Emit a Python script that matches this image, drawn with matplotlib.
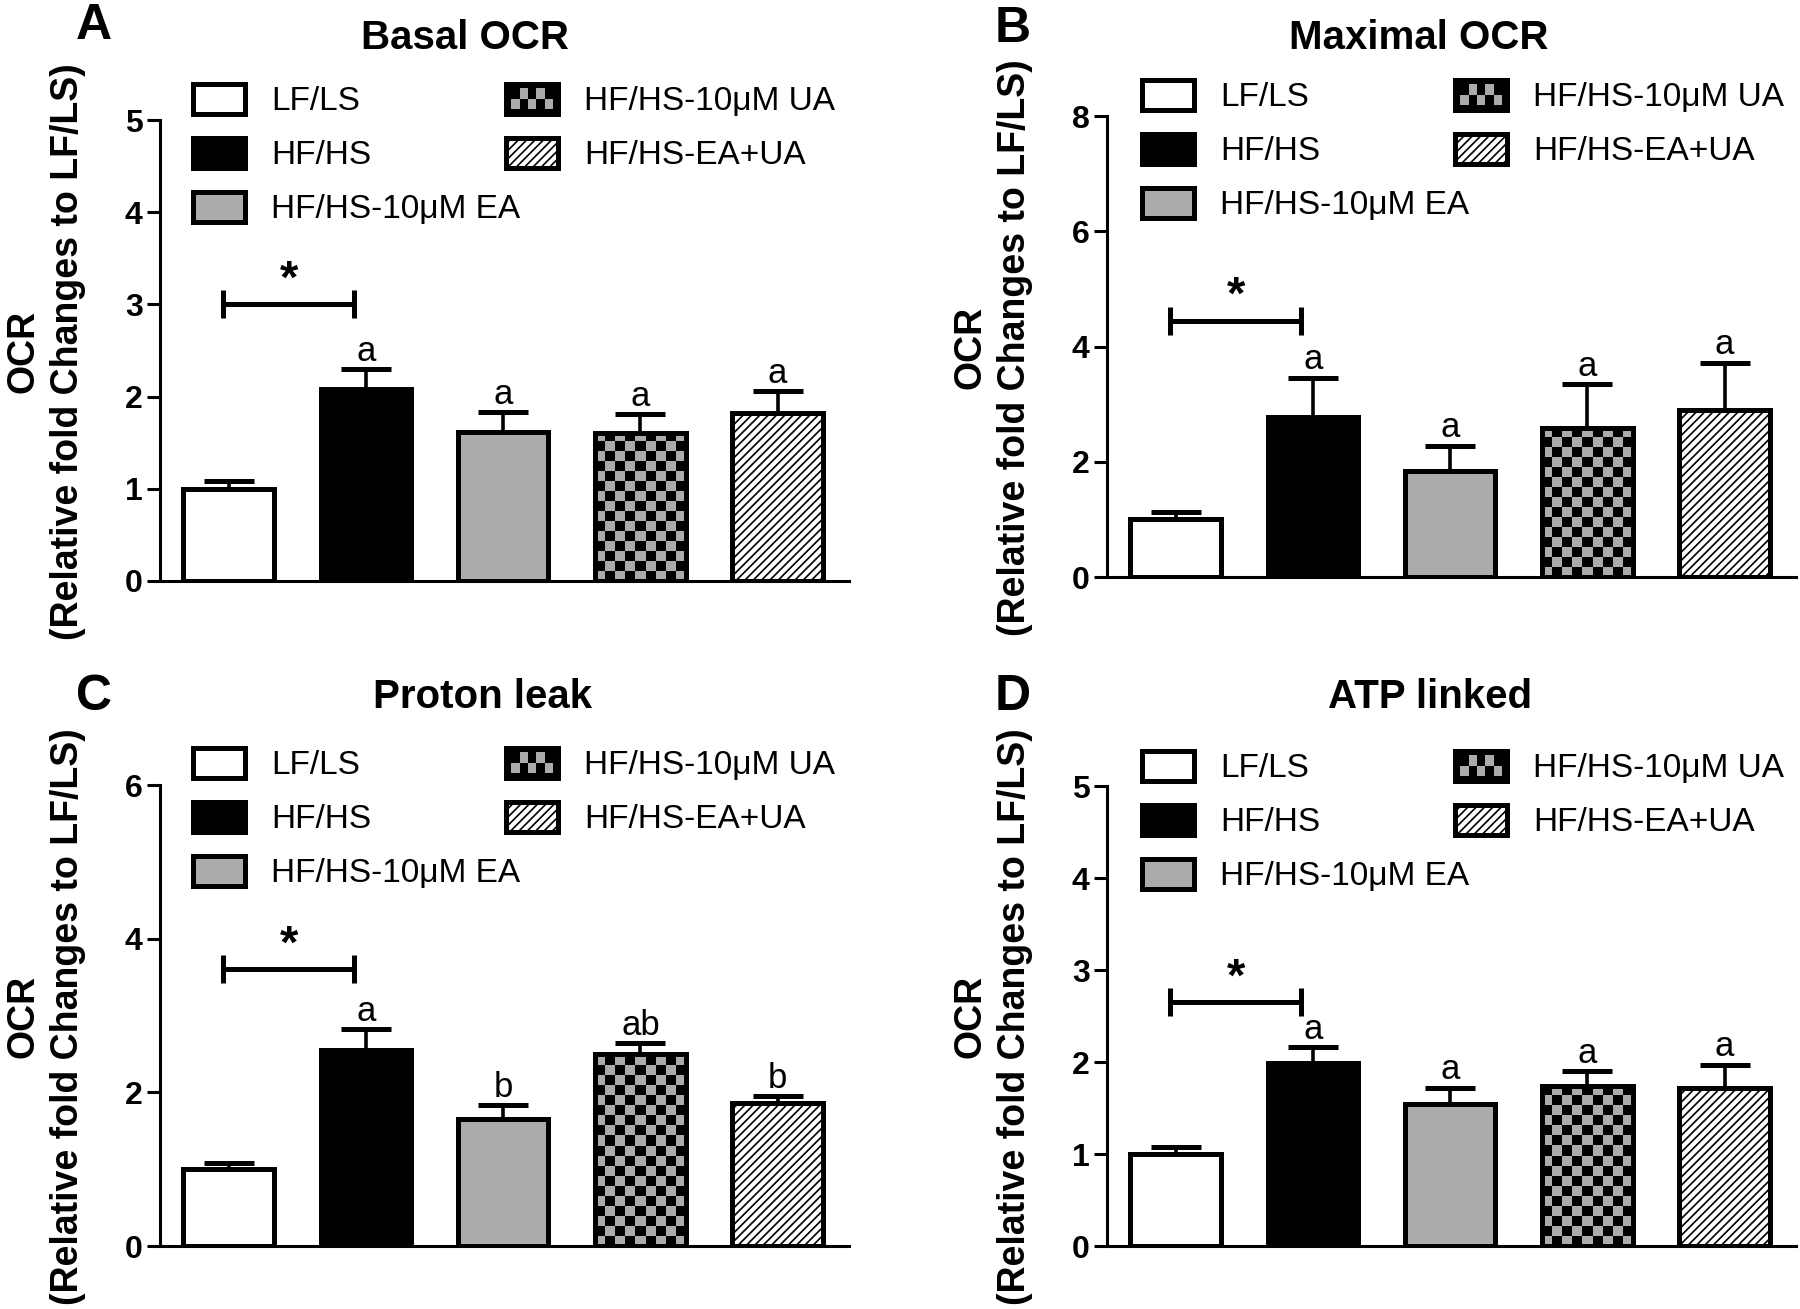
import numpy as np
import matplotlib
matplotlib.use('Agg')
import matplotlib.pyplot as plt
from matplotlib.patches import Patch, Rectangle
from matplotlib.legend_handler import HandlerBase

plt.rcParams['font.family'] = ['Liberation Sans', 'DejaVu Sans']
plt.rcParams['hatch.linewidth'] = 1.2

# data
groups = ['LF/LS', 'HF/HS', 'HF/HS-10μM EA', 'HF/HS-10μM UA', 'HF/HS-EA+UA']

basal_mean = [1.00, 2.08, 1.62, 1.60, 1.82]
basal_err = [0.08, 0.22, 0.21, 0.21, 0.24]
basal_letters = ['', 'a', 'a', 'a', 'a']

maximal_mean = [1.00, 2.78, 1.84, 2.58, 2.90]
maximal_err = [0.13, 0.68, 0.44, 0.77, 0.82]
maximal_letters = ['', 'a', 'a', 'a', 'a']

proton_mean = [1.00, 2.55, 1.65, 2.50, 1.86]
proton_err = [0.08, 0.27, 0.18, 0.14, 0.09]
proton_letters = ['', 'a', 'b', 'ab', 'b']

atp_mean = [1.00, 1.99, 1.54, 1.74, 1.72]
atp_err = [0.08, 0.17, 0.18, 0.16, 0.25]
atp_letters = ['', 'a', 'a', 'a', 'a']

star_level = {'A': 3.0, 'B': 4.45, 'C': 3.6, 'D': 2.65}
ymax = {'A': 5, 'B': 8, 'C': 6, 'D': 5}
ystep = {'A': 1, 'B': 2, 'C': 2, 'D': 1}

W, H = 1800, 1309
GRAY = '#ababab'
faces = ['white', 'black', GRAY, GRAY, 'white']
hatches = [None, None, None, None, '////']
LW = 3.6


def fx(x):
    return x / W


def fy(y):
    return 1 - y / H


class CheckerHandler(HandlerBase):
    def create_artists(self, legend, orig_handle, xdescent, ydescent,
                       width, height, fontsize, trans):
        x0, y0 = -xdescent, -ydescent
        arts = [Rectangle((x0, y0), width, height, facecolor='black',
                          edgecolor='black', lw=LW, transform=trans)]
        nx, ny = 5, 2
        cw, ch = width * 0.8 / nx, height * 0.7 / ny
        ox, oy = x0 + width * 0.1, y0 + height * 0.15
        for i in range(nx):
            for j in range(ny):
                if (i + j) % 2 == 0:
                    arts.append(Rectangle((ox + i * cw, oy + j * ch), cw, ch,
                                          facecolor=GRAY, lw=0, transform=trans))
        return arts


fig = plt.figure(figsize=(W / 100, H / 100), dpi=100)

panels = [
    ('A', 'Basal OCR', basal_mean, basal_err, basal_letters, (160, 849, 120, 581),
     (465, 38), (94, 26), (193, 84)),
    ('B', 'Maximal OCR', maximal_mean, maximal_err, maximal_letters, (1107, 1796, 116, 577),
     (1419, 38), (1013, 29), (1142, 80)),
    ('C', 'Proton leak', proton_mean, proton_err, proton_letters, (160, 849, 785, 1246),
     (483, 697), (94, 697), (193, 748)),
    ('D', 'ATP linked', atp_mean, atp_err, atp_letters, (1107, 1796, 786, 1246),
     (1430, 697), (1013, 697), (1142, 751)),
]

x = np.arange(len(groups))
bw = 0.66

for key, title, mean, err, letters, box, tpos, lpos, legpos in panels:
    l, r, t, b = box
    ax = fig.add_axes([fx(l), fy(b), fx(r - l), (b - t) / H])
    xlim = (-0.5, len(groups) - 1 + 0.52)
    ax.set_xlim(*xlim)
    ax.set_ylim(0, ymax[key])

    bars = ax.bar(x, mean, bw, color=faces, edgecolor='black', lw=LW, zorder=2)
    for bar, h in zip(bars, hatches):
        if h:
            bar.set_hatch(h)

    # checkerboard fill for the UA bar
    px_x = (r - l) / (xlim[1] - xlim[0])
    px_y = (b - t) / ymax[key]
    cw, ch = 10.0 / px_x, 10.0 / px_y
    ncol = int(round(bw / cw))
    nrow = int(np.ceil(mean[3] / ch)) + 1
    board = np.indices((nrow, ncol)).sum(axis=0) % 2
    x0 = x[3] - bw / 2
    im = ax.imshow(board, cmap=matplotlib.colors.ListedColormap([GRAY, 'black']),
                   extent=[x0, x0 + bw, 0, nrow * ch], origin='lower',
                   interpolation='nearest', aspect='auto', zorder=2.5)
    im.set_clip_path(bars[3])
    ax.bar(x, mean, bw, fill=False, edgecolor='black', lw=LW, zorder=3)
    ax.set_xlim(*xlim)
    ax.set_ylim(0, ymax[key])

    ax.errorbar(x, mean, yerr=[np.zeros(len(err)), err], fmt='none', ecolor='black',
                elinewidth=2.6, capsize=18, capthick=LW, zorder=1.5)

    for xi, m, e, txt in zip(x, mean, err, letters):
        if txt:
            ax.annotate(txt, (xi, m + e), xytext=(0, 1), textcoords='offset points',
                        ha='center', va='bottom', fontsize=25)

    # significance bracket LF/LS vs HF/HS
    yb = star_level[key]
    ax.plot([x[0] - 0.04, x[1] - 0.09], [yb, yb], color='black', lw=LW,
            marker='|', ms=20, mew=LW, solid_capstyle='butt')
    ax.annotate('*', ((x[0] + x[1]) / 2 - 0.06, yb), xytext=(0, 1),
                textcoords='offset points', ha='center', va='bottom',
                fontsize=34, fontweight='bold')

    for s in ['top', 'right']:
        ax.spines[s].set_visible(False)
    for s in ['left', 'bottom']:
        ax.spines[s].set_linewidth(2.2)
    ax.set_xticks([])
    ax.set_yticks(np.arange(0, ymax[key] + 0.1, ystep[key]))
    ax.tick_params(axis='y', length=9.5, width=2.2, labelsize=23, pad=3)
    for lab in ax.get_yticklabels():
        lab.set_fontweight('bold')

    ax.set_ylabel('OCR\n(Relative fold Changes to LF/LS)', fontsize=27,
                  fontweight='bold', linespacing=1.3)
    ax.yaxis.set_label_coords(-0.107, 0.498)

    fig.text(fx(tpos[0]), fy(tpos[1]), title, ha='center', va='center',
             fontsize=29, fontweight='bold')
    fig.text(fx(lpos[0]), fy(lpos[1]), key, ha='center', va='center',
             fontsize=36, fontweight='bold')

    handles = [Patch(facecolor=f, edgecolor='black', lw=LW, hatch=h)
               for f, h in zip(faces, hatches)]
    handler_map = {handles[3]: CheckerHandler()}
    ax.legend(handles, groups, handler_map=handler_map, ncol=2, frameon=False,
              fontsize=24, handlelength=1.56, handleheight=1.0, handletextpad=0.78,
              labelspacing=0.62, columnspacing=-0.42, borderpad=0, borderaxespad=0,
              loc='upper left', bbox_to_anchor=(fx(legpos[0]), fy(legpos[1])),
              bbox_transform=fig.transFigure)

fig.savefig('out.png', dpi=100)
